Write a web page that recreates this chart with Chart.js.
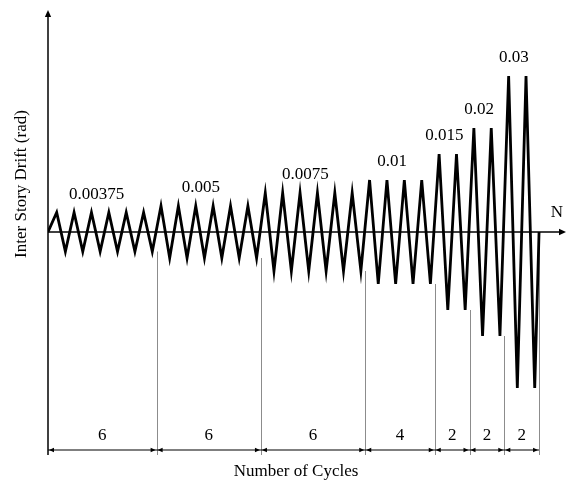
<!DOCTYPE html>
<html>
<head>
<meta charset="utf-8">
<script src="https://cdn.jsdelivr.net/npm/chart.js@4"></script>
<style>
  html, body { margin: 0; padding: 0; background: #fff; }
  canvas { display: block; }
</style>
</head>
<body>
<canvas id="chart" width="568" height="480"></canvas>
<script>
// loading protocol: drift amplitude and number of cycles per step
var drifts = [0.00375, 0.005, 0.0075, 0.01, 0.015, 0.02, 0.03];
var cycles = [6, 6, 6, 4, 2, 2, 2];
var driftLabels = ["0.00375", "0.005", "0.0075", "0.01", "0.015", "0.02", "0.03"];
var xTitle = "Number of Cycles";
var yTitle = "Inter Story Drift (rad)";

var FONT = '"Liberation Serif", "Times New Roman", serif';

// build the zigzag from the protocol table
var wave = [{x: 0, y: 0}];
var n = 0;
var bounds = [0];
for (var g = 0; g < drifts.length; g++) {
  for (var c = 0; c < cycles[g]; c++) {
    wave.push({x: n + 0.5, y: drifts[g]});
    wave.push({x: n + 1, y: -drifts[g]});
    n++;
  }
  bounds.push(n + 0.25);
}
wave.push({x: n + 0.25, y: 0});

function arrow(ctx, x, y, dir, size) {
  // dir: 'up' | 'right' | 'left'
  ctx.beginPath();
  if (dir == "up") {
    ctx.moveTo(x, y);
    ctx.lineTo(x - size * 0.45, y + size);
    ctx.lineTo(x + size * 0.45, y + size);
  } else if (dir == "right") {
    ctx.moveTo(x, y);
    ctx.lineTo(x - size, y - size * 0.45);
    ctx.lineTo(x - size, y + size * 0.45);
  } else {
    ctx.moveTo(x, y);
    ctx.lineTo(x + size, y - size * 0.45);
    ctx.lineTo(x + size, y + size * 0.45);
  }
  ctx.closePath();
  ctx.fill();
}

var decor = {
  id: "decor",
  beforeDatasetsDraw: function(chart) {
    var ctx = chart.ctx;
    var xs = chart.scales.x, ys = chart.scales.y;
    var area = chart.chartArea;
    var y0 = ys.getPixelForValue(0);
    var x0 = xs.getPixelForValue(0);
    var dimY = area.bottom - 3;

    ctx.save();
    ctx.fillStyle = "#000";
    ctx.strokeStyle = "#000";

    // y axis
    ctx.lineWidth = 1.5;
    ctx.beginPath();
    ctx.moveTo(x0, area.bottom + 2);
    ctx.lineTo(x0, area.top + 4);
    ctx.stroke();
    arrow(ctx, x0, area.top - 1, "up", 7);

    // x axis
    ctx.beginPath();
    ctx.moveTo(x0, y0);
    ctx.lineTo(area.right - 4, y0);
    ctx.stroke();
    arrow(ctx, area.right, y0, "right", 7);

    // step boundaries
    ctx.strokeStyle = "#8c8c8c";
    ctx.lineWidth = 1;
    for (var i = 1; i < bounds.length; i++) {
      var bx = Math.round(xs.getPixelForValue(bounds[i])) + 0.5;
      var top = i < bounds.length - 1 ? ys.getPixelForValue(-drifts[i - 1]) : y0;
      ctx.beginPath();
      ctx.moveTo(bx, top);
      ctx.lineTo(bx, area.bottom + 2);
      ctx.stroke();
    }

    // dimension line with arrows
    ctx.strokeStyle = "#000";
    ctx.lineWidth = 1.2;
    ctx.beginPath();
    ctx.moveTo(x0, dimY);
    ctx.lineTo(xs.getPixelForValue(bounds[bounds.length - 1]), dimY);
    ctx.stroke();
    ctx.font = "17px " + FONT;
    ctx.textAlign = "center";
    ctx.textBaseline = "middle";
    for (var j = 0; j < cycles.length; j++) {
      var a = xs.getPixelForValue(bounds[j]);
      var b = xs.getPixelForValue(bounds[j + 1]);
      arrow(ctx, a + 1, dimY, "left", 5);
      arrow(ctx, b - 1, dimY, "right", 5);
      ctx.fillText(String(cycles[j]), (a + b) / 2, dimY - 14);
    }

    // step drift labels
    var start = 0;
    for (var k = 0; k < drifts.length; k++) {
      var mid = start + cycles[k] / 2 - 0.2;
      start += cycles[k];
      ctx.fillText(driftLabels[k], xs.getPixelForValue(mid), ys.getPixelForValue(drifts[k]) - 18);
    }

    // axis titles
    ctx.fillText("N", area.right - 9, y0 - 19);
    ctx.fillText(xTitle, 296, area.bottom + 19);
    ctx.save();
    ctx.translate(22, (area.top + area.bottom) / 2 - 48);
    ctx.rotate(-Math.PI / 2);
    ctx.fillText(yTitle, 0, 0);
    ctx.restore();

    ctx.restore();
  }
};

new Chart(document.getElementById("chart"), {
  type: "line",
  data: {
    datasets: [{
      data: wave,
      borderColor: "#000",
      borderWidth: 2.8,
      borderJoinStyle: "miter",
      pointRadius: 0,
      tension: 0,
      fill: false
    }]
  },
  options: {
    responsive: false,
    animation: false,
    layout: { padding: { left: 48, right: 2, top: 11, bottom: 27 } },
    plugins: { legend: { display: false }, tooltip: { enabled: false } },
    scales: {
      x: { type: "linear", min: 0, max: 29.8, display: false },
      y: { type: "linear", min: -0.0425, max: 0.0425, display: false }
    }
  },
  plugins: [decor]
});
</script>
</body>
</html>
